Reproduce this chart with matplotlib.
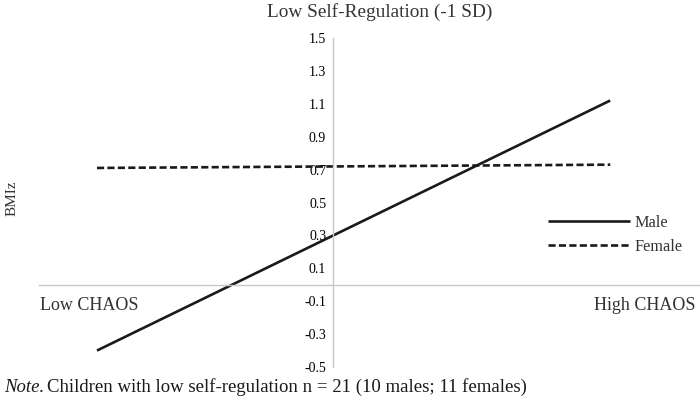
import matplotlib
matplotlib.use("Agg")
import matplotlib.pyplot as plt
import numpy as np

plt.rcParams['font.family'] = ['Liberation Serif', 'DejaVu Serif']

categories = ["Low CHAOS", "High CHAOS"]
male = [-0.40, 1.12]
female = [0.71, 0.73]
yticks = [-0.5, -0.3, -0.1, 0.1, 0.3, 0.5, 0.7, 0.9, 1.1, 1.3, 1.5]

W, H = 700, 412
fig = plt.figure(figsize=(W/100, H/100), dpi=100)
ax = fig.add_axes([39/W, (H-367)/H, (699-39)/W, (367-38)/H])

xpos = np.arange(len(categories))
ax.plot(xpos, male, color='#1a1a1a', lw=1.9, solid_capstyle='butt', label='Male')
ax.plot(xpos, female, color='#1a1a1a', lw=1.9, ls=(0, (2.7, 1.25)), label='Female')

ax.set_xlim(-0.113, 1.173)
ax.set_ylim(-0.5, 1.5)
ax.set_yticks(yticks)
ax.set_yticklabels([f"{v:.1f}" for v in yticks], fontsize=12, color='#333333')
ax.tick_params(axis='y', length=0, pad=5)
ax.set_xticks([])

for s in ['top', 'right']:
    ax.spines[s].set_visible(False)
ax.spines['left'].set_position(('data', 0.46))
ax.spines['bottom'].set_position(('data', 0))
for s in ['left', 'bottom']:
    ax.spines[s].set_color('#c8c8c8')
    ax.spines[s].set_linewidth(1.0)

ax.text(40/W, (H-305)/H, categories[0], transform=fig.transFigure, fontsize=13,
        color='#333333', ha='left', va='center')
ax.text(695/W, (H-305)/H, categories[1], transform=fig.transFigure, fontsize=13,
        color='#333333', ha='right', va='center')

fig.text(380/W, (H-12)/H, "Low Self-Regulation (-1 SD)", fontsize=13.9, color='#333333',
         ha='center', va='center')
fig.text(12/W, (H-198)/H, "BMIz", fontsize=11, rotation=90, color='#333333',
         ha='center', va='center')

leg = ax.legend(loc='upper left', bbox_to_anchor=(548/W, (H-215)/H),
                bbox_transform=fig.transFigure, frameon=False, fontsize=11.7,
                handlelength=5.05, handletextpad=0.3, labelspacing=0.48,
                borderaxespad=0, borderpad=0)
for t in leg.get_texts():
    t.set_color('#333333')

# Note line: italic "Note." followed by regular text
note_fs = 13.5
renderer = fig.canvas.get_renderer()
t1 = fig.text(4/W, (H-387)/H, "Note.", fontsize=note_fs, style='italic',
              ha='left', va='center', color='#1a1a1a')
bb = t1.get_window_extent(renderer=renderer)
fig.text((bb.x1 + 3)/W, (H-387)/H, "Children with low self-regulation n = 21 (10 males; 11 females)",
         fontsize=note_fs, ha='left', va='center', color='#1a1a1a')

fig.savefig("out.png", dpi=100)
